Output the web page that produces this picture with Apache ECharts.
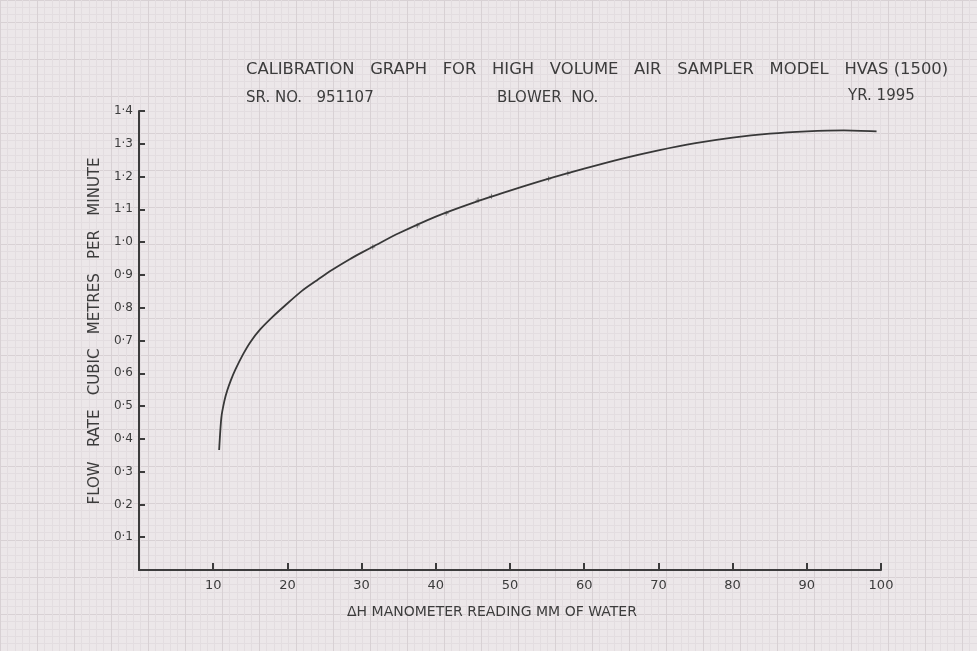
<!DOCTYPE html>
<html>
<head>
<meta charset="utf-8">
<script src="https://cdn.jsdelivr.net/npm/echarts@6/dist/echarts.min.js"></script>
<style>
html,body{margin:0;padding:0;background:#ebe6e8;}
#chart{width:977px;height:651px;}
</style>
</head>
<body>
<div id="chart"></div>
<script>
// ---- data ----
const manometerMM = [10.8, 11.1, 11.5, 11.9, 12.4, 13, 14, 15, 16.3, 18, 19.5, 22, 24, 26, 28.4, 30, 32, 35, 40, 45, 50, 55, 60, 65, 70, 75, 80, 85, 90, 95, 99.4];
const flowRate    = [0.366, 0.465, 0.515, 0.548, 0.58, 0.612, 0.657, 0.695, 0.733, 0.772, 0.803, 0.852, 0.884, 0.915, 0.948, 0.968, 0.992, 1.027, 1.078, 1.12, 1.157, 1.192, 1.224, 1.254, 1.28, 1.302, 1.319, 1.331, 1.338, 1.341, 1.338];
const obsX = [31.5, 37.5, 41.4, 45.7, 47.5, 55.2, 57.8];
const obsY = [0.985, 1.05, 1.088, 1.128, 1.14, 1.193, 1.21];
const titleLine1 = 'CALIBRATION   GRAPH   FOR   HIGH   VOLUME   AIR   SAMPLER   MODEL   HVAS (1500)';
const srNo = 'SR. NO.   951107';
const blowerNo = 'BLOWER  NO.';
const year = 'YR. 1995';
const xName = 'ΔH MANOMETER READING MM OF WATER';
const yName = '    FLOW   RATE   CUBIC   METRES   PER   MINUTE';

const ink = '#3c3c3c';
const font = 'DejaVu Sans, sans-serif';

const chart = echarts.init(document.getElementById('chart'), null, {renderer:'canvas'});
const lineData = manometerMM.map((x,i)=>[x, flowRate[i]]);
const obsData = obsX.map((x,i)=>[x, obsY[i]]);
const ts = (size) => ({fontSize: size, fontWeight: 'normal', color: ink, fontFamily: font});

chart.setOption({
  backgroundColor: '#ece7e9',
  animation: false,
  textStyle: {fontFamily: font, color: ink},
  title: [
    {text: titleLine1, left: 241, top: 57, textStyle: ts(16.4)},
    {text: srNo, left: 241, top: 86, textStyle: ts(15)},
    {text: blowerNo, left: 492, top: 86, textStyle: ts(15)},
    {text: year, left: 843, top: 84, textStyle: ts(15)},
    {text: xName, left: 342, top: 600, textStyle: ts(14)}
  ],
  grid: [
    {left: 139, right: 96, top: 111, bottom: 81, containLabel: false},
    {left: 0, right: 0, top: 0, bottom: 0, containLabel: false}
  ],
  xAxis: [
    {
      gridIndex: 0, type: 'value', min: 0, max: 100, interval: 10,
      axisLine: {show: true, lineStyle: {color: ink, width: 2}},
      axisTick: {show: true, inside: true, length: 7, lineStyle: {color: ink, width: 2}},
      axisLabel: {color: ink, fontSize: 13, margin: 9, fontFamily: font,
                  formatter: v => v === 0 ? '' : String(v)},
      splitLine: {show: false}
    },
    {
      gridIndex: 1, type: 'value', min: 0, max: 977, interval: 37,
      axisLine: {show: false}, axisTick: {show: false}, axisLabel: {show: false},
      splitLine: {show: true, lineStyle: {color: '#d8d1d4', width: 1}},
      minorTick: {show: false, splitNumber: 5},
      minorSplitLine: {show: true, lineStyle: {color: '#e3dde0', width: 1}}
    }
  ],
  yAxis: [
    {
      gridIndex: 0, type: 'value', min: 0, max: 1.4, interval: 0.1,
      name: yName, nameLocation: 'middle', nameGap: 34, nameRotate: 90,
      nameTextStyle: {color: ink, fontSize: 15, fontFamily: font},
      axisLine: {show: true, lineStyle: {color: ink, width: 2}},
      axisTick: {show: true, inside: true, length: 6, lineStyle: {color: ink, width: 2}},
      axisLabel: {color: ink, fontSize: 12, margin: 6, fontFamily: font,
                  formatter: v => v === 0 ? '' : v.toFixed(1).replace('.', '·')},
      splitLine: {show: false}
    },
    {
      gridIndex: 1, type: 'value', min: 0, max: 651, interval: 37,
      axisLine: {show: false}, axisTick: {show: false}, axisLabel: {show: false},
      splitLine: {show: true, lineStyle: {color: '#d8d1d4', width: 1}},
      minorTick: {show: false, splitNumber: 5},
      minorSplitLine: {show: true, lineStyle: {color: '#e3dde0', width: 1}}
    }
  ],
  series: [
    {
      type: 'line', xAxisIndex: 0, yAxisIndex: 0, data: lineData,
      smooth: 0.25, showSymbol: false, z: 5,
      lineStyle: {color: '#383838', width: 1.8}
    },
    {
      type: 'scatter', xAxisIndex: 0, yAxisIndex: 0, data: obsData, z: 4,
      symbol: 'path://M0,5L10,5M5,0L5,10', symbolSize: 5,
      itemStyle: {color: 'none', borderColor: '#666', borderWidth: 1}
    }
  ]
});
</script>
</body>
</html>
